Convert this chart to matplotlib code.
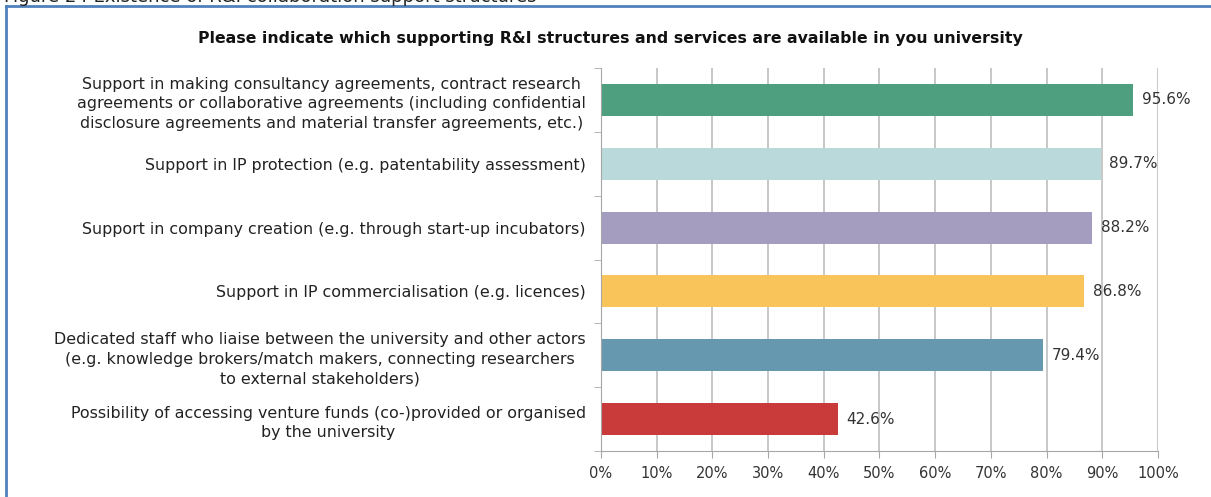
import matplotlib.pyplot as plt
from matplotlib.lines import Line2D

plt.rcParams['font.family'] = ['DejaVu Sans']

# Survey results
labels = [
    "Support in making consultancy agreements, contract research\nagreements or collaborative agreements (including confidential\ndisclosure agreements and material transfer agreements, etc.)",
    "Support in IP protection (e.g. patentability assessment)",
    "Support in company creation (e.g. through start-up incubators)",
    "Support in IP commercialisation (e.g. licences)",
    "Dedicated staff who liaise between the university and other actors\n(e.g. knowledge brokers/match makers, connecting researchers\nto external stakeholders)",
    "Possibility of accessing venture funds (co-)provided or organised\nby the university",
]
values = [95.6, 89.7, 88.2, 86.8, 79.4, 42.6]
colors = ['#4E9E80', '#BAD9DB', '#A59DC0', '#F9C55A', '#6699B0', '#C93A3A']
xticks = [0, 10, 20, 30, 40, 50, 60, 70, 80, 90, 100]

fig = plt.figure(figsize=(12.11, 4.97), dpi=100)
ax = fig.add_axes([0.4963, 0.0926, 0.4599, 0.7704])

pos = list(range(len(values)))
ax.barh(pos, values, height=0.5, color=colors, zorder=2)
for y, v in zip(pos, values):
    ax.annotate(f"{v:.1f}%", (v, y), xytext=(6, 0), textcoords='offset points',
                va='center', ha='left', fontsize=11, color='#333333', zorder=3)

ax.set_xlim(0, 100)
ax.set_ylim(len(values) - 0.5, -0.5)
ax.set_xticks(xticks)
ax.set_xticklabels([f"{t}%" for t in xticks], fontsize=10.5, color='#333333')
ax.set_yticks(pos)
ax.set_yticklabels(labels, fontsize=11.4, color='#222222')
for t in ax.get_yticklabels():
    t.set_multialignment('center')
    t.set_linespacing(1.38)
ax.tick_params(axis='y', length=0, pad=11)
ax.set_yticks([p - 0.5 for p in pos] + [len(values) - 0.5], minor=True)
ax.tick_params(axis='y', which='minor', length=5, color='#A6A6A6')
ax.tick_params(axis='x', length=5, color='#A6A6A6', pad=6)

ax.grid(axis='x', color='#BFBFBF', linewidth=1.2, zorder=0)
for s in ['top', 'right']:
    ax.spines[s].set_visible(False)
for s in ['left', 'bottom']:
    ax.spines[s].set_color('#A6A6A6')

fig.text(0.504, 0.923, "Please indicate which supporting R&I structures and services are available in you university",
         ha='center', va='center', fontsize=11.3, fontweight='bold', color='#111111')

# caption above the frame, partly off the page
fig.text(0.003, 1.006, "Figure 24 Existence of R&I collaboration support structures",
         ha='left', va='center', fontsize=13, color='#222222')

# blue frame
fig.add_artist(Line2D([0.005, 1.0], [0.988, 0.988], transform=fig.transFigure,
                      color='#4F81BD', linewidth=2))
fig.add_artist(Line2D([0.005, 0.005], [0.0, 0.988], transform=fig.transFigure,
                      color='#4F81BD', linewidth=2))

fig.savefig('out.png', dpi=100)
